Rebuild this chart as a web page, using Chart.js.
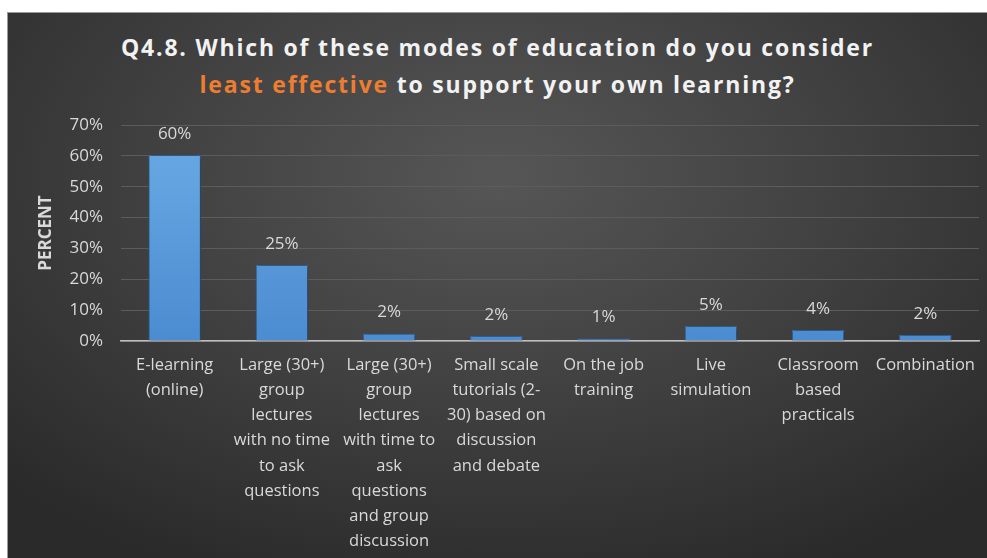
<!DOCTYPE html>
<html>
<head>
<meta charset="utf-8">
<script src="https://cdn.jsdelivr.net/npm/chart.js@4"></script>
<style>
    html, body {
        margin: 0;
        padding: 0;
        background: #ffffff;
    }
    #panel {
        position: absolute;
        left: 7px;
        top: 12px;
        width: 980px;
        height: 546px;
        box-sizing: border-box;
        border-top: 1px solid #9a9a9a;
        border-left: 1px solid #9a9a9a;
        background: radial-gradient(ellipse 70% 80% at 50% 30%, #565656 0%, #434343 45%, #2a2a2a 100%);
        overflow: hidden;
    }
    #title {
        position: absolute;
        left: 0;
        right: 0;
        top: 16px;
        text-align: center;
        font-family: "Open Sans", sans-serif;
        font-weight: 700;
        font-size: 23px;
        line-height: 37px;
        letter-spacing: 1.8px;
        color: #f2f2f2;
    }
    #title .hl {
        color: #ed7d31;
    }
    #chartBox {
        position: absolute;
        left: 0;
        top: 0;
        width: 980px;
        height: 546px;
    }
</style>
</head>
<body>
<div id="panel">
    <div id="title">Q4.8. Which of these modes of education do you consider<br><span class="hl">least effective</span> to support your own learning?</div>
    <div id="chartBox"><canvas id="modesChart"></canvas></div>
</div>
<script>
// Survey answers: share of respondents (%) picking each mode as least effective
const categories = [
    ['E-learning', '(online)'],
    ['Large (30+)', 'group', 'lectures', 'with no time', 'to ask', 'questions'],
    ['Large (30+)', 'group', 'lectures', 'with time to', 'ask', 'questions', 'and group', 'discussion'],
    ['Small scale', 'tutorials (2-', '30) based on', 'discussion', 'and debate'],
    ['On the job', 'training'],
    ['Live', 'simulation'],
    ['Classroom', 'based', 'practicals'],
    ['Combination']
];
const percentValues = [60.3, 24.6, 2.4, 1.6, 0.8, 4.9, 3.6, 2.0];
const yTicks = [0, 10, 20, 30, 40, 50, 60, 70];

const textColor = '#d9d9d9';
const fontFamily = '"Open Sans", sans-serif';

// soft dark shadow behind the bars
const barShadow = {
    id: 'barShadow',
    beforeDatasetsDraw(chart) {
        const ctx = chart.ctx;
        ctx.save();
        ctx.shadowColor = 'rgba(0, 0, 0, 0.6)';
        ctx.shadowBlur = 6;
        ctx.shadowOffsetX = 1;
        ctx.shadowOffsetY = 1;
    },
    afterDatasetsDraw(chart) {
        chart.ctx.restore();
    }
};

// value labels above each bar
const valueLabels = {
    id: 'valueLabels',
    afterDatasetsDraw(chart) {
        const ctx = chart.ctx;
        const meta = chart.getDatasetMeta(0);
        ctx.save();
        ctx.fillStyle = textColor;
        ctx.font = '17px ' + fontFamily;
        ctx.textAlign = 'center';
        ctx.textBaseline = 'middle';
        meta.data.forEach((bar, i) => {
            ctx.fillText(Math.round(percentValues[i]) + '%', bar.x, bar.y - 21);
        });
        ctx.restore();
    }
};

const canvas = document.getElementById('modesChart');
const ctx = canvas.getContext('2d');

const barFill = ctx.createLinearGradient(0, 150, 0, 330);
barFill.addColorStop(0, '#65a6e2');
barFill.addColorStop(1, '#4b8bd0');

new Chart(ctx, {
    type: 'bar',
    data: {
        labels: categories,
        datasets: [{
            data: percentValues,
            backgroundColor: barFill,
            borderColor: '#3a6fa8',
            borderWidth: 1,
            categoryPercentage: 1,
            barPercentage: 0.49
        }]
    },
    options: {
        responsive: true,
        maintainAspectRatio: false,
        animation: false,
        layout: {
            padding: { top: 112, left: 0, right: 9, bottom: 0 }
        },
        plugins: {
            legend: { display: false },
            tooltip: { enabled: false }
        },
        scales: {
            x: {
                afterFit(scale) {
                    scale.height = 218;
                },
                grid: { display: false, drawTicks: false },
                border: { display: true, color: '#bfbfbf', width: 1.5 },
                ticks: {
                    autoSkip: false,
                    maxRotation: 0,
                    minRotation: 0,
                    padding: 12,
                    color: textColor,
                    font: { family: fontFamily, size: 16.5, lineHeight: 1.52 }
                }
            },
            y: {
                min: 0,
                max: 70,
                afterFit(scale) {
                    scale.width = 113;
                },
                afterBuildTicks(scale) {
                    scale.ticks = yTicks.map(v => ({ value: v }));
                },
                grid: { color: '#5c5c5c', lineWidth: 1, drawTicks: false },
                border: { display: false },
                ticks: {
                    padding: 18,
                    color: textColor,
                    font: { family: fontFamily, size: 17 },
                    callback: value => value + '%'
                },
                title: {
                    display: true,
                    text: 'PERCENT',
                    color: textColor,
                    font: { family: fontFamily, size: 17, weight: 'bold' },
                    padding: { top: 28, bottom: 0 }
                }
            }
        }
    },
    plugins: [barShadow, valueLabels]
});
</script>
</body>
</html>
